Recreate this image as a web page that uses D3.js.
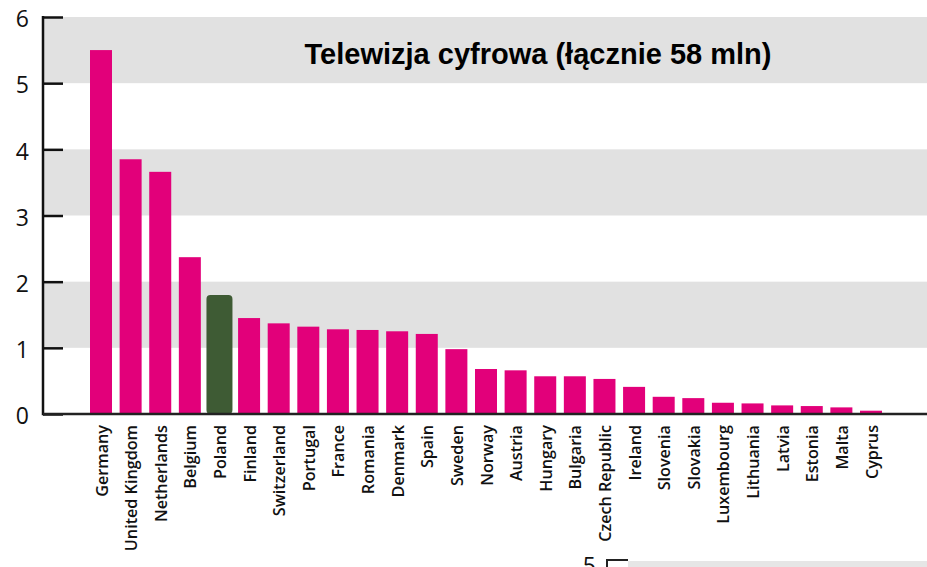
<!DOCTYPE html>
<html>
<head>
<meta charset="utf-8">
<script src="https://cdn.jsdelivr.net/npm/d3@7"></script>
<style>
  html, body { margin: 0; padding: 0; background: #ffffff; }
  svg { display: block; }
</style>
</head>
<body>
<svg id="chart" width="927" height="567"></svg>
<script>
const countries = ["Germany","United Kingdom","Netherlands","Belgium","Poland","Finland","Switzerland","Portugal","France","Romania","Denmark","Spain","Sweden","Norway","Austria","Hungary","Bulgaria","Czech Republic","Ireland","Slovenia","Slovakia","Luxembourg","Lithuania","Latvia","Estonia","Malta","Cyprus"];
const values = [5.50,3.85,3.66,2.37,1.80,1.45,1.37,1.32,1.28,1.27,1.25,1.21,0.98,0.68,0.66,0.57,0.57,0.53,0.41,0.26,0.24,0.17,0.16,0.13,0.12,0.10,0.05];
const yTicks = [0,1,2,3,4,5,6];
const bandRanges = [[1,2],[3,4],[5,6]];
const highlight = "Poland";
const title = "Telewizja cyfrowa (łącznie 58 mln)";
const nextChartTick = "5";

const data = countries.map((c,i)=>({country:c, value:values[i]}));

const svg = d3.select("#chart");
const W = 927, H = 567;
const axisX = 43, plotRight = 927;
const y = d3.scaleLinear().domain([0,6]).range([414,17]);
const x = d3.scalePoint().domain(countries).range([101,871]);

const pink = "#e2007a", green = "#3e5b34", band = "#e1e1e1";

// grey bands
svg.append("g").selectAll("rect").data(bandRanges).join("rect")
  .attr("x", axisX).attr("width", plotRight-axisX)
  .attr("y", d=>y(d[1])).attr("height", d=>y(d[0])-y(d[1]))
  .attr("fill", band);

// bars
const bw = 22, bwH = 26;
svg.append("g").selectAll("rect").data(data).join("rect")
  .attr("x", d=>x(d.country)-(d.country===highlight?bwH:bw)/2)
  .attr("width", d=>d.country===highlight?bwH:bw)
  .attr("y", d=>y(d.value))
  .attr("height", d=>y(0)-y(d.value))
  .attr("rx", d=>d.country===highlight?4:0)
  .attr("fill", d=>d.country===highlight?green:pink);

// title
svg.append("text")
  .attr("x", 538).attr("y", 64)
  .attr("text-anchor","middle")
  .attr("font-family","Liberation Sans, Arial, sans-serif")
  .attr("font-weight","bold")
  .attr("font-size", 29)
  .attr("fill","#000")
  .text(title);

// y axis
const yAxis = d3.axisLeft(y).tickValues(yTicks).tickFormat(d3.format("d")).tickSize(0).tickPadding(0);
const gy = svg.append("g").attr("transform",`translate(${axisX},0)`).call(yAxis);
gy.select(".domain").remove();
gy.selectAll(".tick text")
  .attr("x", -14).attr("dy","0.42em")
  .attr("font-family","Open Sans, sans-serif")
  .attr("font-size", 23).attr("fill","#111");
gy.selectAll(".tick").append("line")
  .attr("x1",0).attr("x2",20).attr("stroke","#111").attr("stroke-width",2.5);
svg.append("line").attr("x1",axisX).attr("x2",axisX)
  .attr("y1",y(6)-1).attr("y2",y(0)+1.2)
  .attr("stroke","#111").attr("stroke-width",2.5);

// x axis baseline
svg.append("line").attr("x1",axisX).attr("x2",plotRight)
  .attr("y1",y(0)).attr("y2",y(0))
  .attr("stroke","#222").attr("stroke-width",2.5);

// category labels
const xAxis = d3.axisBottom(x).tickSize(0).tickPadding(0);
const gx = svg.append("g").attr("transform",`translate(0,${y(0)})`).call(xAxis);
gx.select(".domain").remove();
gx.selectAll(".tick text")
  .attr("y",0).attr("x",0).attr("dy",null)
  .attr("text-anchor","end")
  .attr("transform","translate(6,11) rotate(-90) scale(0.98,1)")
  .attr("font-family","Open Sans, sans-serif")
  .attr("font-weight", 600)
  .attr("font-size", 16.5).attr("fill","#111");

// fragment of the next chart at the bottom edge
const frag = svg.append("g");
frag.append("rect").attr("x",628).attr("y",561).attr("width",W-628).attr("height",H-561).attr("fill","#e6e6e6");
frag.append("line").attr("x1",607).attr("x2",607).attr("y1",559).attr("y2",H).attr("stroke","#222").attr("stroke-width",2);
frag.append("line").attr("x1",606).attr("x2",628).attr("y1",560).attr("y2",560).attr("stroke","#222").attr("stroke-width",2);
frag.append("text").attr("x",596).attr("y",574).attr("text-anchor","end")
  .attr("font-family","Open Sans, sans-serif").attr("font-size",23).attr("fill","#111")
  .text(nextChartTick);
</script>
</body>
</html>
